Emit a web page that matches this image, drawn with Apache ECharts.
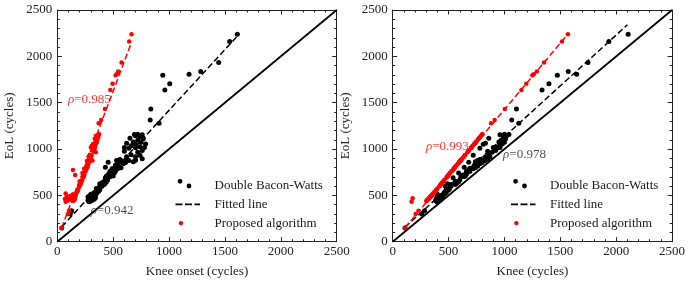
<!DOCTYPE html>
<html><head><meta charset="utf-8">
<script src="https://cdn.jsdelivr.net/npm/echarts@6/dist/echarts.min.js"></script>
<style>html,body{margin:0;padding:0;background:#fff}#c{width:692px;height:285px}</style>
</head><body><div id="c"></div>
<script>
// End of life (cycles) of each cell
const eol = [2237,2160,1934,1836,1806,1795,1705,1637,1432,1313,1277,148,300,335,
430,438,444,448,455,458,461,463,468,471,477,480,483,485,487,489,494,495,502,511,513,519,527,534,545,559,561,573,
599,602,616,617,625,634,636,648,651,667,691,702,703,709,710,719,720,731,741,757,759,773,788,788,793,798,804,817,825,
842,852,854,857,862,870,870,876,876,880,886,896,917,917,932,939,966,975,985,1009,1014,1017,1017,1025,1035,1051,1054,
1063,1074,1076,1094,1110,1116,1129,1142,1155,1158,1160];
// Knee onset, Double Bacon-Watts
const onsetDBW = [1611,1542,1444,1283,1179,944,1006,962,837,831,911,40,116,128,
285,300,275,310,290,330,280,320,295,340,285,305,325,275,300,340,315,290,330,300,345,320,355,335,370,360,380,350,
400,380,395,420,380,430,400,440,420,450,430,470,450,500,440,480,455,460,510,470,520,495,490,540,510,570,430,550,520,
590,540,610,455,680,620,580,530,640,700,560,760,620,700,740,660,720,600,760,640,700,780,600,740,660,700,790,
620,750,680,720,770,650,740,700,760,690,720];
// Knee onset, proposed algorithm
const onsetProp = [664,643,575,545,530,522,495,475,426,392,370,40,95,105,
75,140,95,150,120,155,68,145,110,160,90,150,130,100,155,85,160,120,165,140,165,75,170,175,180,185,180,190,
195,200,205,200,210,208,212,215,200,222,228,232,235,235,237,240,160,242,225,250,252,140,260,240,264,265,268,270,272,
277,280,282,284,285,288,265,290,315,292,295,296,302,280,307,290,345,322,325,332,334,335,300,338,310,344,320,
348,350,352,356,335,362,365,345,372,371,374];
// Knee, Double Bacon-Watts
const kneeDBW = [2107,1934,1747,1571,1646,1473,1398,1336,1107,1065,1128,110,260,285,
395,410,385,420,400,430,405,415,390,440,420,410,445,400,430,450,425,405,440,455,400,470,460,480,470,500,480,510,
520,470,520,560,490,575,555,590,560,600,540,610,640,620,650,630,645,660,590,690,660,680,700,720,690,740,640,760,730,
780,750,800,680,740,810,790,760,830,800,780,850,830,870,720,860,890,850,920,780,940,960,900,930,960,810,980,
830,1000,950,970,1010,860,990,1020,960,1040,1000];
// Knee, proposed algorithm
const kneeProp = [1568,1515,1354,1290,1262,1250,1195,1152,1003,912,880,110,205,230,
169,300,305,310,315,318,320,322,178,328,330,335,336,338,340,340,345,347,350,356,358,362,368,372,380,390,392,400,
418,420,428,430,435,440,442,450,452,462,480,487,487,492,494,498,500,506,512,525,526,540,545,548,550,553,557,565,572,
582,590,592,595,598,603,602,608,607,610,615,620,636,635,646,650,668,676,682,700,702,705,704,710,716,728,730,
736,744,745,758,768,772,782,790,800,800,803];
// Fitted lines (end points) and the y = x reference
const fitOnsetDBW = [[40,160],[1620,2230]];
const fitOnsetProp = [[39,150],[664,2150]];
const fitKneeDBW = [[110,157],[2100,2340]];
const fitKneeProp = [[110,150],[1568,2240]];
const diagonal = [[0,0],[2500,2500]];
// Correlation annotations: [x, y, text, colour]
const rhoLeft = [[96,1530,'0.985','red'],[298,334,'0.942','black']];
const rhoRight = [[297,1025,'0.993','red'],[988,935,'0.978','black']];

const FONT = 'Liberation Serif';
const RED = '#ff0000', BLK = '#000000';
const zip = (xs) => xs.map((x,i)=>[x,eol[i]]);

const chart = echarts.init(document.getElementById('c'), null, {renderer:'canvas'});

function common(){
  return {
    axisLine:{show:true, onZero:false, lineStyle:{color:'#222', width:1}},
    axisTick:{show:true, inside:true, length:4.5, lineStyle:{color:'#222', width:1}},
    minorTick:{show:true, splitNumber:5, length:2.5, lineStyle:{color:'#222', width:1}},
    splitLine:{show:false}, minorSplitLine:{show:false}
  };
}
function xAx(grid, pos, name){
  return Object.assign({type:'value', gridIndex:grid, position:pos, min:0, max:2500, interval:500,
    name: name||'', nameLocation:'middle', nameGap:23,
    nameTextStyle:{fontFamily:FONT, fontSize:13, color:'#222'},
    axisLabel:{show:!!name, margin:3, fontFamily:FONT, fontSize:13, color:'#222', formatter:v=>String(v)}}, common());
}
function yAx(grid, pos, name){
  return Object.assign({type:'value', gridIndex:grid, position:pos, min:0, max:2500, interval:500,
    name: name||'', nameLocation:'middle', nameGap:41, nameRotate:90,
    nameTextStyle:{fontFamily:FONT, fontSize:13, color:'#222'},
    axisLabel:{show:!!name, margin:5, fontFamily:FONT, fontSize:13, color:'#222', formatter:v=>String(v)}}, common());
}

function panel(xi, yi, dbw, prop, fitB, fitR, rho){
  const s = [
    {name:'Double Bacon-Watts', type:'scatter', xAxisIndex:xi, yAxisIndex:yi, data:zip(dbw),
      symbol:'circle', symbolSize:5, itemStyle:{color:BLK, opacity:1}, z:2},
    {name:'Proposed algorithm', type:'scatter', xAxisIndex:xi, yAxisIndex:yi, data:zip(prop),
      symbol:'circle', symbolSize:4.5, itemStyle:{color:RED, opacity:1}, z:3},
    {name:'y = x', type:'line', xAxisIndex:xi, yAxisIndex:yi, data:diagonal, symbol:'none',
      lineStyle:{color:BLK, width:1.8}, z:4},
    {name:'Fitted line', type:'line', xAxisIndex:xi, yAxisIndex:yi, data:fitB, symbol:'none',
      itemStyle:{color:BLK}, lineStyle:{color:BLK, width:1.5, type:[6,3]}, z:5},
    {name:'Fitted line (proposed)', type:'line', xAxisIndex:xi, yAxisIndex:yi, data:fitR, symbol:'none',
      lineStyle:{color:RED, width:1.5, type:[6,3]}, z:5}
  ];
  rho.forEach(r=>{
    const col = r[3]==='red'?RED:'#222';
    s.push({name:'rho', type:'scatter', xAxisIndex:xi, yAxisIndex:yi, symbolSize:0, silent:true, z:6,
      data:[[r[0],r[1]]],
      label:{show:true, position:'right', distance:0, formatter:'{i|ρ}=' + r[2], color:col,
        fontFamily:FONT, fontSize:13,
        rich:{i:{fontStyle:'italic', fontFamily:FONT, fontSize:13, color:col}}}});
  });
  return s;
}

const DOTS = 'path://M0,0M34,14M2.2,2.6a2.4,2.4 0 1,0 4.8,0a2.4,2.4 0 1,0 -4.8,0ZM11.1,7.3a2.4,2.4 0 1,0 4.8,0a2.4,2.4 0 1,0 -4.8,0Z';
const DASH = 'path://M0,0M34,14M0,6.1L7,6.1L7,7.9L0,7.9ZM9.5,6.1L16.5,6.1L16.5,7.9L9.5,7.9ZM19,6.1L24.5,6.1L24.5,7.9L19,7.9Z';
const REDDOT = 'path://M0,0M34,14M3.2,7a2.2,2.2 0 1,0 4.4,0a2.2,2.2 0 1,0 -4.4,0Z';
function legend(left){
  return {orient:'vertical', left:left, top:178.7, itemWidth:34, itemHeight:14, itemGap:4.7,
    selectedMode:false, padding:0,
    textStyle:{fontFamily:FONT, fontSize:13, color:'#1a1a1a', lineHeight:14},
    data:[{name:'Double Bacon-Watts', icon:DOTS},{name:'Fitted line', icon:DASH},{name:'Proposed algorithm', icon:REDDOT}]};
}

chart.setOption({
  animation:false,
  backgroundColor:'#fff',
  grid:[{left:57.3, top:10, width:279.4, height:231.7},{left:392.7, top:10, width:279.4, height:231.7}],
  xAxis:[xAx(0,'bottom','Knee onset (cycles)'), xAx(0,'top'), xAx(1,'bottom','Knee (cycles)'), xAx(1,'top')],
  yAxis:[yAx(0,'left','EoL (cycles)'), yAx(0,'right'), yAx(1,'left','EoL (cycles)'), yAx(1,'right')],
  legend:[legend(175.5), legend(511)],
  series:[].concat(
    panel(0,0,onsetDBW,onsetProp,fitOnsetDBW,fitOnsetProp,rhoLeft),
    panel(2,2,kneeDBW,kneeProp,fitKneeDBW,fitKneeProp,rhoRight))
});
</script></body></html>
